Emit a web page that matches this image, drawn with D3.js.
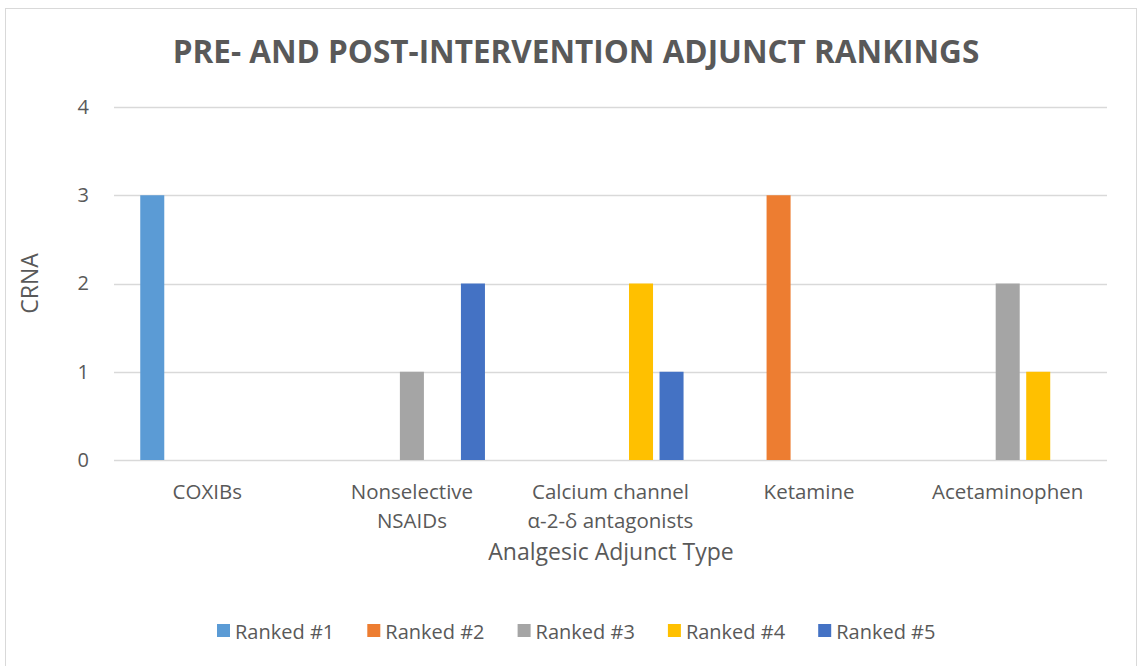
<!DOCTYPE html>
<html lang="en">
<head>
<meta charset="utf-8">
<script src="https://d3js.org/d3.v7.min.js"></script>
<style>
  body { margin: 0; background: #fff; }
  text { font-family: "Open Sans", sans-serif; fill: #595959; }
</style>
</head>
<body>
<div id="chart"></div>
<script>
// chart data
var categories = [["COXIBs"], ["Nonselective", "NSAIDs"], ["Calcium channel", "\u03b1-2-\u03b4 antagonists"], ["Ketamine"], ["Acetaminophen"]];
var series = ["Ranked #1", "Ranked #2", "Ranked #3", "Ranked #4", "Ranked #5"];
var colors = ["#5b9bd5", "#ed7d31", "#a5a5a5", "#ffc000", "#4472c4"];
var ranked1 = [3, 0, 0, 0, 0];
var ranked2 = [0, 0, 0, 3, 0];
var ranked3 = [0, 1, 0, 0, 2];
var ranked4 = [0, 0, 2, 0, 1];
var ranked5 = [0, 2, 1, 0, 0];
var yTicks = [0, 1, 2, 3, 4];

var values = [ranked1, ranked2, ranked3, ranked4, ranked5];

var width = 1139;
var height = 666;
var plotLeft = 114, plotRight = 1107, plotTop = 107, plotBottom = 460;

var svg = d3.select("#chart")
    .append("svg")
    .attr("width", width)
    .attr("height", height);

// chart frame
svg.append("rect")
    .attr("x", 5.5).attr("y", 8.5)
    .attr("width", 1131).attr("height", 680)
    .attr("fill", "none")
    .attr("stroke", "#d9d9d9");

var x0 = d3.scaleBand()
    .domain(d3.range(categories.length))
    .range([plotLeft, plotRight]);

var x1 = d3.scaleBand()
    .domain(d3.range(series.length))
    .range([0, x0.bandwidth()])
    .paddingInner(0.213)
    .paddingOuter(0.86);

var y = d3.scaleLinear().domain([0, 4]).range([plotBottom, plotTop]);

// gridlines
svg.selectAll(".grid").data(yTicks).enter()
    .append("line").attr("class", "grid")
    .attr("x1", plotLeft).attr("x2", plotRight)
    .attr("y1", function(d) { return Math.round(y(d)) + 0.5; })
    .attr("y2", function(d) { return Math.round(y(d)) + 0.5; })
    .attr("stroke", "#d9d9d9")
    .attr("stroke-width", 1.5);

// y axis labels
var yAxis = svg.append("g")
    .attr("transform", "translate(" + (plotLeft - 22) + ",0)")
    .call(d3.axisLeft(y).tickValues(yTicks).tickSize(0).tickFormat(d3.format("d")));
yAxis.select(".domain").remove();
yAxis.selectAll("text")
    .attr("font-size", 20)
    .attr("font-family", null)
    .attr("fill", "#595959");

// bars
series.forEach(function(s, si) {
    svg.append("g")
        .selectAll("rect")
        .data(values[si])
        .enter()
        .append("rect")
        .attr("x", function(d, i) { return x0(i) + x1(si); })
        .attr("y", function(d) { return y(d); })
        .attr("width", x1.bandwidth())
        .attr("height", function(d) { return y(0) - y(d); })
        .attr("fill", colors[si]);
});

// category labels
var catG = svg.append("g");
categories.forEach(function(lines, i) {
    var cx = x0(i) + x0.bandwidth() / 2 - (i === 0 ? 6 : 0);
    var t = catG.append("text")
        .attr("text-anchor", "middle")
        .attr("font-size", 20.5)
        .attr("x", cx)
        .attr("y", 499);
    lines.forEach(function(l, li) {
        t.append("tspan")
            .attr("x", cx)
            .attr("dy", li === 0 ? 0 : 29)
            .text(l);
    });
});

// axis titles
svg.append("text")
    .attr("text-anchor", "middle")
    .attr("font-size", 23)
    .attr("x", 611).attr("y", 560)
    .text("Analgesic Adjunct Type");

svg.append("text")
    .attr("text-anchor", "middle")
    .attr("font-size", 23)
    .attr("transform", "translate(38," + ((plotTop + plotBottom) / 2) + ") rotate(-90)")
    .text("CRNA");

// title
svg.append("text")
    .attr("text-anchor", "middle")
    .attr("font-size", 31.5)
    .attr("font-weight", "bold")
    .attr("x", 576).attr("y", 63)
    .text("PRE- AND POST-INTERVENTION ADJUNCT RANKINGS");

// legend
var legend = svg.append("g");
series.forEach(function(s, si) {
    var lx = 217 + si * 150.3;
    legend.append("rect")
        .attr("x", lx).attr("y", 624)
        .attr("width", 13).attr("height", 13)
        .attr("fill", colors[si]);
    legend.append("text")
        .attr("x", lx + 18).attr("y", 639)
        .attr("font-size", 20)
        .text(s);
});
</script>
</body>
</html>
